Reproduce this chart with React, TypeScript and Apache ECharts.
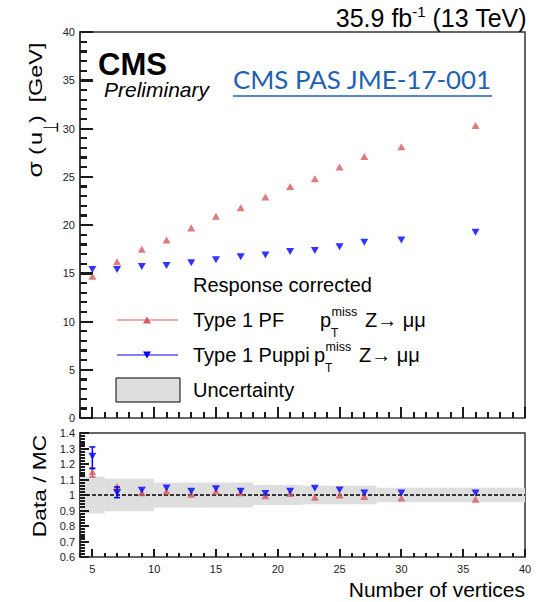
import React, { useEffect, useRef } from 'react';
import * as echarts from 'echarts';

// ---- data ----
const nVertices = [5, 7, 9, 11, 13, 15, 17, 19, 21, 23, 25, 27, 30, 36];
const sigmaPF = [14.7, 16.2, 17.5, 18.45, 19.7, 20.9, 21.8, 22.9, 24.0, 24.8, 26.0, 27.1, 28.1, 30.3];
const sigmaPuppi = [15.4, 15.4, 15.7, 15.8, 16.1, 16.4, 16.7, 16.9, 17.25, 17.35, 17.75, 18.2, 18.45, 19.25];
const ratioPF = [1.15, 1.055, 1.015, 1.025, 1.005, 1.025, 1.015, 0.995, 1.01, 0.985, 1.0, 0.99, 0.98, 0.972];
const ratioPuppi = [1.25, 1.015, 1.03, 1.045, 1.025, 1.04, 1.025, 1.01, 1.025, 1.043, 1.032, 1.013, 1.013, 1.013];
// visible error bars on the ratio
const errPFx = [5];
const errPFlo = [1.116];
const errPFhi = [1.176];
const errPuppiX = [5, 7];
const errPuppiLo = [1.17, 0.983];
const errPuppiHi = [1.31, 1.052];
// uncertainty band bins
const bandX0 = [4, 6, 10, 18, 22, 28];
const bandX1 = [6, 10, 18, 22, 28, 40];
const bandLo = [0.88, 0.895, 0.92, 0.935, 0.94, 0.953];
const bandHi = [1.12, 1.105, 1.08, 1.065, 1.06, 1.047];
// axis ticks
const xMajorTicks = [5, 10, 15, 20, 25, 30, 35, 40];
const xMinorTicks = Array.from({ length: 37 }, (_, i) => 4 + i);
const yMainMajor = [0, 5, 10, 15, 20, 25, 30, 35, 40];
const yMainMinor = Array.from({ length: 41 }, (_, i) => i);
const yRatioMajor = [0.6, 0.7, 0.8, 0.9, 1.0, 1.1, 1.2, 1.3, 1.4];
const yRatioMinor = Array.from({ length: 41 }, (_, i) => +(0.6 + i * 0.02).toFixed(2));

const RED = '#d65a5e';
const BLUE = '#0000ff';
const BAND = '#dedede';
const FONT = '"Liberation Sans", Arial, sans-serif';

function measure(text: string, size: number, family: string, weight = 'normal', style = 'normal') {
  const c = document.createElement('canvas').getContext('2d')!;
  c.font = `${style} ${weight} ${size}px ${family}`;
  return c.measureText(text).width;
}

function T(text: string, x: number, baseline: number, size: number, extra: any = {}) {
  const { fill = '#000', family = FONT, weight = 'normal', fstyle = 'normal', align = 'left' } = extra;
  return {
    type: 'text',
    silent: true,
    style: {
      text, x, y: baseline - 0.35 * size, fill,
      fontSize: size, fontFamily: family, fontWeight: weight, fontStyle: fstyle,
      align, verticalAlign: 'middle',
    },
  };
}

function R(text: string, baselineX: number, cy: number, size: number, sx: number, family = FONT) {
  return {
    type: 'text',
    silent: true,
    x: baselineX - 0.35 * size,
    y: cy,
    rotation: Math.PI / 2,
    scaleX: sx,
    style: { text, x: 0, y: 0, fill: '#000', fontSize: size, fontFamily: family, align: 'center', verticalAlign: 'middle' },
  };
}

function pTmiss(x0: number, b: number) {
  return [
    T('p', x0, b, 20),
    T('T', x0 + 11, b + 10, 12),
    T('miss', x0 + 11.5, b - 11, 12.5),
    T('Z\u2192 \u03bc\u03bc', x0 + 45, b, 20),
  ];
}

// tick marks drawn through the axes' own scales (as thin filled rects)
function tickSeries(xi: number, yi: number, data: number[][], dir: 'x' | 'y', len: number) {
  return {
    type: 'custom', xAxisIndex: xi, yAxisIndex: yi, z: 10, clip: false,
    encode: { x: 0, y: 1 },
    data,
    renderItem: (params: any, api: any) => {
      const p = api.coord([api.value(0), api.value(1)]);
      const px = Math.round(p[0]);
      const py = Math.round(p[1]);
      const shape = dir === 'x'
        ? { x: px - 1, y: py - len, width: 2, height: len }
        : { x: px, y: py - 1, width: len, height: 2 };
      return { type: 'rect', shape, style: { fill: '#1a1a1a' } };
    },
  };
}

export default function App() {
  const ref = useRef<HTMLDivElement>(null);
  useEffect(() => {
    const chart = echarts.init(ref.current!, null, { renderer: 'svg' });

    const wA = measure('35.9 fb', 25, FONT);
    const wS = measure('-1', 15, FONT);
    const wB = measure(' (13 TeV)', 25, FONT);
    const lx = 527 - (wA + wS + wB);
    const linkText = 'CMS PAS JME-17-001';
    const linkSize = (26 * 259) / measure(linkText, 26, 'Lato');

    const labelStyle = { show: true, color: '#222', fontSize: 11, fontFamily: FONT };
    const yLine = () => ({ show: true, onZero: false, lineStyle: { color: '#333', width: 1.5 } });
    const yTick = (len: number) => ({ show: true, inside: true, length: len, lineStyle: { color: '#1a1a1a', width: 2 } });
    const yMinor = (len: number) => ({ show: true, splitNumber: 5, length: len, lineStyle: { color: '#1a1a1a', width: 2 } });

    const errRender = (color: string) => (params: any, api: any) => {
      const x = api.value(0);
      const p1 = api.coord([x, api.value(1)]);
      const p2 = api.coord([x, api.value(2)]);
      const c = 3;
      const st = { stroke: color, lineWidth: 1.5 };
      return {
        type: 'group',
        children: [
          { type: 'line', shape: { x1: p1[0], y1: p1[1], x2: p2[0], y2: p2[1] }, style: st },
          { type: 'line', shape: { x1: p1[0] - c, y1: p1[1], x2: p1[0] + c, y2: p1[1] }, style: st },
          { type: 'line', shape: { x1: p2[0] - c, y1: p2[1], x2: p2[0] + c, y2: p2[1] }, style: st },
        ],
      };
    };

    const option: any = {
      animation: false,
      grid: [
        { left: 80, top: 32, width: 445, height: 386, show: true, borderColor: '#333', borderWidth: 1.5 },
        { left: 80, top: 433, width: 445, height: 124, show: true, borderColor: '#333', borderWidth: 1.5 },
      ],
      xAxis: [
        { gridIndex: 0, type: 'value', position: 'bottom', min: 4, max: 40, interval: 1, axisLine: { show: false }, axisTick: { show: false }, axisLabel: { show: false }, splitLine: { show: false } },
        { gridIndex: 1, type: 'value', position: 'bottom', min: 4, max: 40, interval: 1, axisLine: { show: false }, axisTick: { show: false }, axisLabel: { ...labelStyle, margin: 6, customValues: xMajorTicks }, splitLine: { show: false } },
      ],
      yAxis: [
        { gridIndex: 0, type: 'value', position: 'left', min: 0, max: 40, interval: 5, axisLine: yLine(), axisTick: yTick(13), minorTick: yMinor(7), axisLabel: { ...labelStyle, margin: 5 }, splitLine: { show: false }, minorSplitLine: { show: false } },
        { gridIndex: 1, type: 'value', position: 'left', min: 0.6, max: 1.4, interval: 0.1, axisLine: yLine(), axisTick: yTick(9), minorTick: yMinor(5), axisLabel: { ...labelStyle, margin: 5, formatter: (v: number) => String(+v.toFixed(2)) }, splitLine: { show: false }, minorSplitLine: { show: false } },
      ],
      series: [
        tickSeries(0, 0, yMainMajor.map((v) => [4, v]), 'y', 13),
        tickSeries(0, 0, yMainMinor.map((v) => [4, v]), 'y', 7),
        tickSeries(0, 0, xMajorTicks.map((v) => [v, 0]), 'x', 11),
        tickSeries(0, 0, xMinorTicks.map((v) => [v, 0]), 'x', 6),
        tickSeries(1, 1, yRatioMajor.map((v) => [4, v]), 'y', 9),
        tickSeries(1, 1, yRatioMinor.map((v) => [4, v]), 'y', 5),
        tickSeries(1, 1, xMajorTicks.map((v) => [v, 0.6]), 'x', 8),
        tickSeries(1, 1, xMinorTicks.map((v) => [v, 0.6]), 'x', 4),
        {
          name: 'Type 1 PF',
          type: 'scatter', xAxisIndex: 0, yAxisIndex: 0, z: 3,
          symbol: 'triangle', symbolSize: [8, 7],
          itemStyle: { color: RED },
          data: nVertices.map((x, i) => [x, sigmaPF[i]]),
        },
        {
          name: 'Type 1 Puppi',
          type: 'scatter', xAxisIndex: 0, yAxisIndex: 0, z: 3,
          symbol: 'triangle', symbolRotate: 180, symbolSize: [8, 7],
          itemStyle: { color: BLUE },
          data: nVertices.map((x, i) => [x, sigmaPuppi[i]]),
        },
        {
          name: 'Uncertainty',
          type: 'custom', xAxisIndex: 1, yAxisIndex: 1, z: 1, clip: true,
          encode: { x: [0, 1], y: [2, 3] },
          data: bandX0.map((x0, i) => [x0, bandX1[i], bandLo[i], bandHi[i]]),
          renderItem: (params: any, api: any) => {
            const p0 = api.coord([api.value(0), api.value(3)]);
            const p1 = api.coord([api.value(1), api.value(2)]);
            return { type: 'rect', shape: { x: p0[0], y: p0[1], width: p1[0] - p0[0], height: p1[1] - p0[1] }, style: { fill: BAND } };
          },
        },
        {
          type: 'line', xAxisIndex: 1, yAxisIndex: 1, z: 2, symbol: 'none',
          lineStyle: { color: '#000', width: 1.3, type: [4, 2] },
          data: [[4, 1], [40, 1]],
        },
        {
          type: 'custom', xAxisIndex: 1, yAxisIndex: 1, z: 3,
          encode: { x: 0, y: [1, 2] },
          data: errPFx.map((x, i) => [x, errPFlo[i], errPFhi[i]]),
          renderItem: errRender(RED),
        },
        {
          type: 'scatter', xAxisIndex: 1, yAxisIndex: 1, z: 4,
          symbol: 'triangle', symbolSize: [8, 7],
          itemStyle: { color: RED },
          data: nVertices.map((x, i) => [x, ratioPF[i]]),
        },
        {
          type: 'custom', xAxisIndex: 1, yAxisIndex: 1, z: 5,
          encode: { x: 0, y: [1, 2] },
          data: errPuppiX.map((x, i) => [x, errPuppiLo[i], errPuppiHi[i]]),
          renderItem: errRender(BLUE),
        },
        {
          type: 'scatter', xAxisIndex: 1, yAxisIndex: 1, z: 6,
          symbol: 'triangle', symbolRotate: 180, symbolSize: [8, 7],
          itemStyle: { color: BLUE },
          data: nVertices.map((x, i) => [x, ratioPuppi[i]]),
        },
      ],
      graphic: [
        T('35.9 fb', lx, 27, 25),
        T('-1', lx + wA, 17, 15),
        T(' (13 TeV)', lx + wA + wS, 27, 25),
        T('CMS', 98, 75, 31, { weight: 'bold' }),
        T('Preliminary', 104, 97, 21, { fstyle: 'italic' }),
        T(linkText, 233, 88, linkSize, { family: 'Lato', fill: '#1f62b3' }),
        { type: 'line', silent: true, shape: { x1: 233, y1: 96, x2: 492, y2: 96 }, style: { stroke: '#1f62b3', lineWidth: 1.5 } },
        R('\u03c3', 42, 169.5, 20, 1.3),
        R('(', 42, 151, 18, 1.3),
        R('u', 42, 138.5, 18, 1.3),
        R('\u22a5', 58, 127.5, 21, 0.6, '"DejaVu Sans", sans-serif'),
        R(')', 42, 119, 18, 1.3),
        R('[GeV]', 42, 72.5, 18, 1.3),
        R('Data / MC', 46, 486, 17.5, 1.3),
        T('Number of vertices', 525, 597, 21, { align: 'right' }),
        T('Response corrected', 193, 292, 20),
        { type: 'line', silent: true, shape: { x1: 117, y1: 320, x2: 178, y2: 320 }, style: { stroke: RED, lineWidth: 1 } },
        { type: 'polygon', silent: true, shape: { points: [[143, 323.5], [151, 323.5], [147, 316.5]] }, style: { fill: RED } },
        T('Type 1 PF', 193, 327, 20),
        ...pTmiss(320, 327),
        { type: 'line', silent: true, shape: { x1: 117, y1: 355, x2: 178, y2: 355 }, style: { stroke: BLUE, lineWidth: 1 } },
        { type: 'polygon', silent: true, shape: { points: [[143, 351.5], [151, 351.5], [147, 358.5]] }, style: { fill: BLUE } },
        T('Type 1 Puppi', 193, 362, 20),
        ...pTmiss(314, 362),
        { type: 'rect', silent: true, shape: { x: 116, y: 378, width: 64, height: 24 }, style: { fill: BAND, stroke: '#000', lineWidth: 1 } },
        T('Uncertainty', 193, 397, 20),
      ],
    };
    chart.setOption(option);
    return () => chart.dispose();
  }, []);
  return <div ref={ref} style={{ position: 'absolute', left: 0, top: 0, width: 544, height: 602 }} />;
}
